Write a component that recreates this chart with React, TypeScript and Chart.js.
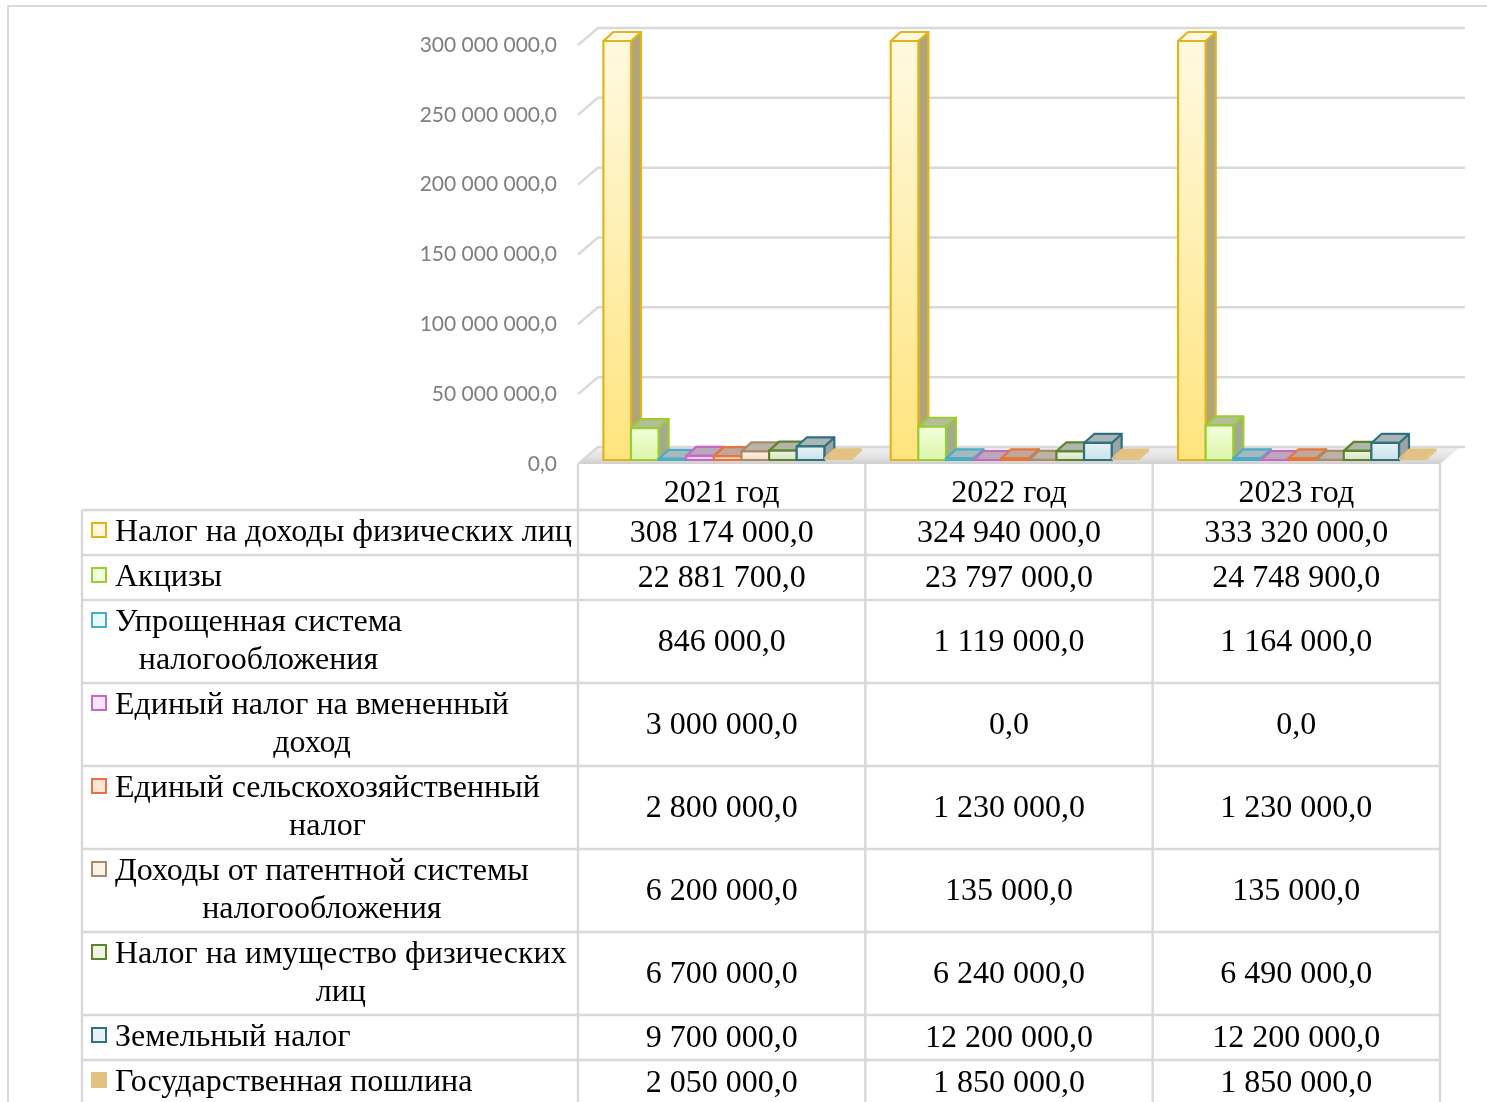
import React, { useEffect, useRef } from 'react';
import { Chart, registerables } from 'chart.js';

Chart.register(...registerables);

// ---------- data ----------
const categories = ['2021 год', '2022 год', '2023 год'];

const seriesNames = [
  'Налог на доходы физических лиц',
  'Акцизы',
  'Упрощенная система\nналогообложения',
  'Единый налог на вмененный\nдоход',
  'Единый сельскохозяйственный\nналог',
  'Доходы от патентной системы\nналогообложения',
  'Налог на имущество физических\nлиц',
  'Земельный налог',
  'Государственная пошлина',
];

const ndflValues = [308174000, 324940000, 333320000];
const excisesValues = [22881700, 23797000, 24748900];
const usnValues = [846000, 1119000, 1164000];
const envdValues = [3000000, 0, 0];
const eshnValues = [2800000, 1230000, 1230000];
const patentValues = [6200000, 135000, 135000];
const propertyValues = [6700000, 6240000, 6490000];
const landValues = [9700000, 12200000, 12200000];
const dutyValues = [2050000, 1850000, 1850000];

const seriesValues = [
  ndflValues, excisesValues, usnValues, envdValues, eshnValues,
  patentValues, propertyValues, landValues, dutyValues,
];

const yMin = 0;
const yMax = 300000000;
const yStep = 50000000;

// ---------- styles ----------
const seriesBorder = ['#e2b41c', '#9acd32', '#4bacc6', '#c46ac4', '#e8743b', '#a88b68', '#5f8230', '#31717f', '#e3c281'];
const seriesLight = ['#fff9e0', '#f2ffdc', '#e6f9fd', '#f9e4f9', '#fde4d8', '#fcf2e6', '#edf4e4', '#e6f2f6', '#e3c281'];
const seriesMain = ['#ffe47e', '#ddf5aa', '#c2eaf5', '#eec3ee', '#f9c3a9', '#f1ddc6', '#d6e6c2', '#c9e2eb', '#e3c281'];
const noBorderSeries = [8];

const SERIF = '"Liberation Serif", "Times New Roman", serif';
const GRID = '#d9d9d9';

// 3D offsets
const F_DX = 6, F_DY = -4;   // bar front face offset from front plane
const D_DX = 10, D_DY = -9;  // bar depth
const W_DX = 20, W_DY = -17; // wall/floor depth

function fmt(v: number): string {
  const s = Math.round(v).toString();
  const parts: string[] = [];
  for (let i = s.length; i > 0; i -= 3) parts.unshift(s.slice(Math.max(0, i - 3), i));
  return parts.join(' ') + ',0';
}

function hexToRgb(h: string) {
  const n = parseInt(h.slice(1), 16);
  return [(n >> 16) & 255, (n >> 8) & 255, n & 255];
}
function mix(a: string, b: string, t: number) {
  const A = hexToRgb(a), B = hexToRgb(b);
  const c = A.map((v, i) => Math.round(v * (1 - t) + B[i] * t));
  return `rgb(${c[0]},${c[1]},${c[2]})`;
}

function poly(ctx: CanvasRenderingContext2D, pts: number[][]) {
  ctx.beginPath();
  ctx.moveTo(pts[0][0], pts[0][1]);
  for (let i = 1; i < pts.length; i++) ctx.lineTo(pts[i][0], pts[i][1]);
  ctx.closePath();
}

const threeDPlugin = {
  id: 'threeD',
  beforeDatasetsDraw(chart: any) {
    const { ctx, chartArea } = chart;
    const { left, right, bottom } = chartArea;
    const y = chart.scales.y;
    ctx.save();
    // floor
    const g = ctx.createLinearGradient(0, bottom + W_DY, 0, bottom);
    g.addColorStop(0, '#f1f1f1');
    g.addColorStop(0.6, '#e2e2e2');
    g.addColorStop(1, '#cfcfcf');
    ctx.fillStyle = g;
    poly(ctx, [[left, bottom], [left + W_DX, bottom + W_DY], [right + W_DX, bottom + W_DY], [right, bottom]]);
    ctx.fill();
    // gridlines (side wall + back wall)
    ctx.strokeStyle = GRID;
    ctx.lineWidth = 2.5;
    y.ticks.forEach((t: any) => {
      const py = y.getPixelForValue(t.value);
      ctx.beginPath();
      ctx.moveTo(left, py);
      ctx.lineTo(left + W_DX, py + W_DY);
      ctx.lineTo(right + W_DX + 5, py + W_DY);
      ctx.stroke();
    });
    ctx.restore();
  },
  afterDatasetsDraw(chart: any) {
    const { ctx, chartArea } = chart;
    const top = chartArea.top;
    ctx.save();
    ctx.lineJoin = 'round';
    for (let j = 0; j < categories.length; j++) {
      for (let i = 0; i < seriesValues.length; i++) {
        const el = chart.getDatasetMeta(i).data[j];
        if (!el) continue;
        const w = el.width;
        const x0 = el.x - w / 2 + F_DX;
        const x1 = x0 + w;
        const clipped = el.y < top;
        const yT = Math.max(el.y, top) + F_DY;
        const yB = el.base + F_DY;
        const plain = noBorderSeries.includes(i);
        const border = seriesBorder[i];
        const sideCol = plain ? seriesMain[i] : mix(seriesMain[i], '#7a7a7a', 0.6);
        const topCol = plain ? seriesMain[i] : clipped ? seriesLight[i] : mix(seriesMain[i], '#909090', 0.55);
        ctx.lineWidth = 2.2;
        ctx.strokeStyle = border;
        // side
        poly(ctx, [[x1, yT], [x1 + D_DX, yT + D_DY], [x1 + D_DX, yB + D_DY], [x1, yB]]);
        ctx.fillStyle = sideCol;
        ctx.fill();
        if (!plain) ctx.stroke();
        // top
        poly(ctx, [[x0, yT], [x1, yT], [x1 + D_DX, yT + D_DY], [x0 + D_DX, yT + D_DY]]);
        ctx.fillStyle = topCol;
        ctx.fill();
        if (!plain) ctx.stroke();
        // front
        if (yB - yT > 0.5) {
          let fill: any = seriesMain[i];
          if (!plain) {
            const gr = ctx.createLinearGradient(0, yT, 0, yB);
            gr.addColorStop(0, seriesLight[i]);
            gr.addColorStop(1, seriesMain[i]);
            fill = gr;
          }
          ctx.fillStyle = fill;
          ctx.fillRect(x0, yT, w, yB - yT);
          if (!plain) ctx.strokeRect(x0, yT, w, yB - yT);
        }
      }
    }
    ctx.restore();
  },
  afterDraw(chart: any) {
    const { ctx, chartArea } = chart;
    const xs = chart.scales.x;
    const left = chartArea.left, right = chartArea.right, bottom = chartArea.bottom;
    const n = categories.length;
    const catW = (right - left) / n;
    const colBounds: number[] = [];
    for (let k = 0; k <= n; k++) colBounds.push(left + k * catW);
    const tableLeft = 82;
    const headerBottom = 510;
    const canvasH = chart.height;

    ctx.save();
    // outer frame
    ctx.strokeStyle = GRID;
    ctx.lineWidth = 2;
    ctx.beginPath();
    ctx.moveTo(8, canvasH);
    ctx.lineTo(8, 6);
    ctx.lineTo(chart.width, 6);
    ctx.stroke();

    // table rows
    ctx.lineWidth = 2.5;
    const rowTops: number[] = [];
    let yy = headerBottom;
    seriesNames.forEach((name) => {
      const lines = name.split('\n');
      rowTops.push(yy);
      yy += 7 + 38 * lines.length;
    });
    const tableBottom = Math.max(yy, canvasH);
    ctx.beginPath();
    [...rowTops, yy].forEach((ry) => {
      ctx.moveTo(tableLeft, ry);
      ctx.lineTo(right, ry);
    });
    ctx.moveTo(tableLeft, headerBottom);
    ctx.lineTo(tableLeft, tableBottom);
    colBounds.forEach((cx) => {
      ctx.moveTo(cx, bottom);
      ctx.lineTo(cx, tableBottom);
    });
    ctx.stroke();

    // text
    ctx.font = `32px ${SERIF}`;
    ctx.fillStyle = '#000';
    ctx.textBaseline = 'middle';
    seriesNames.forEach((name, i) => {
      const lines = name.split('\n');
      const rt = rowTops[i];
      const rh = 7 + 38 * lines.length;
      const textLeft = 115;
      const w1 = ctx.measureText(lines[0]).width;
      lines.forEach((ln, k) => {
        const cy = rt + 23 + 37.5 * k;
        if (k === 0) {
          ctx.textAlign = 'left';
          ctx.fillText(ln, textLeft, cy);
        } else {
          ctx.textAlign = 'center';
          ctx.fillText(ln, textLeft + w1 / 2, cy);
        }
      });
      // legend marker
      const my = rt + 20;
      const plain = noBorderSeries.includes(i);
      if (plain) {
        ctx.fillStyle = seriesMain[i];
        ctx.fillRect(91, my - 8, 16, 16);
      } else {
        ctx.fillStyle = seriesLight[i];
        ctx.fillRect(92, my - 7, 14, 14);
        ctx.strokeStyle = seriesBorder[i];
        ctx.lineWidth = 2;
        ctx.strokeRect(92, my - 7, 14, 14);
      }
      ctx.fillStyle = '#000';
      ctx.textAlign = 'center';
      seriesValues[i].forEach((v, j) => {
        ctx.fillText(fmt(v), xs.getPixelForValue(j), rt + rh / 2 + 1);
      });
    });
    ctx.restore();
  },
};

export default function App() {
  const ref = useRef<HTMLCanvasElement | null>(null);
  useEffect(() => {
    if (!ref.current) return;
    const chart = new Chart(ref.current, {
      type: 'bar',
      data: {
        labels: categories,
        datasets: seriesValues.map((vals, i) => ({
          label: seriesNames[i].replace('\n', ' '),
          data: vals,
          backgroundColor: 'rgba(0,0,0,0)',
          borderWidth: 0,
          barPercentage: 1,
          categoryPercentage: 0.865,
        })),
      },
      options: {
        responsive: false,
        animation: false,
        devicePixelRatio: 1,
        layout: { padding: { left: 0, right: 47, top: 45, bottom: 0 } },
        plugins: {
          legend: { display: false },
          tooltip: { enabled: false },
          title: { display: false },
        },
        scales: {
          x: {
            offset: true,
            grid: { display: false, drawTicks: false },
            border: { display: false },
            ticks: {
              color: '#000',
              font: { family: SERIF, size: 32 },
              padding: 10,
              maxRotation: 0,
            },
            afterFit: (scale: any) => { scale.height = 1102 - 464; },
          },
          y: {
            min: yMin,
            max: yMax,
            grid: { display: false, drawTicks: false },
            border: { display: false },
            ticks: {
              stepSize: yStep,
              color: '#7f7f7f',
              font: { family: 'Lato, "Open Sans", sans-serif', size: 21 },
              padding: 21,
              callback: (v: any) => fmt(Number(v)),
            },
            afterFit: (scale: any) => { scale.width = 578; },
          },
        },
      },
      plugins: [threeDPlugin],
    });
    return () => chart.destroy();
  }, []);
  return (
    <div style={{ position: 'fixed', left: 0, top: 0, width: 1487, height: 1102, background: '#fff' }}>
      <canvas ref={ref} width={1487} height={1102} style={{ display: 'block' }} />
    </div>
  );
}
